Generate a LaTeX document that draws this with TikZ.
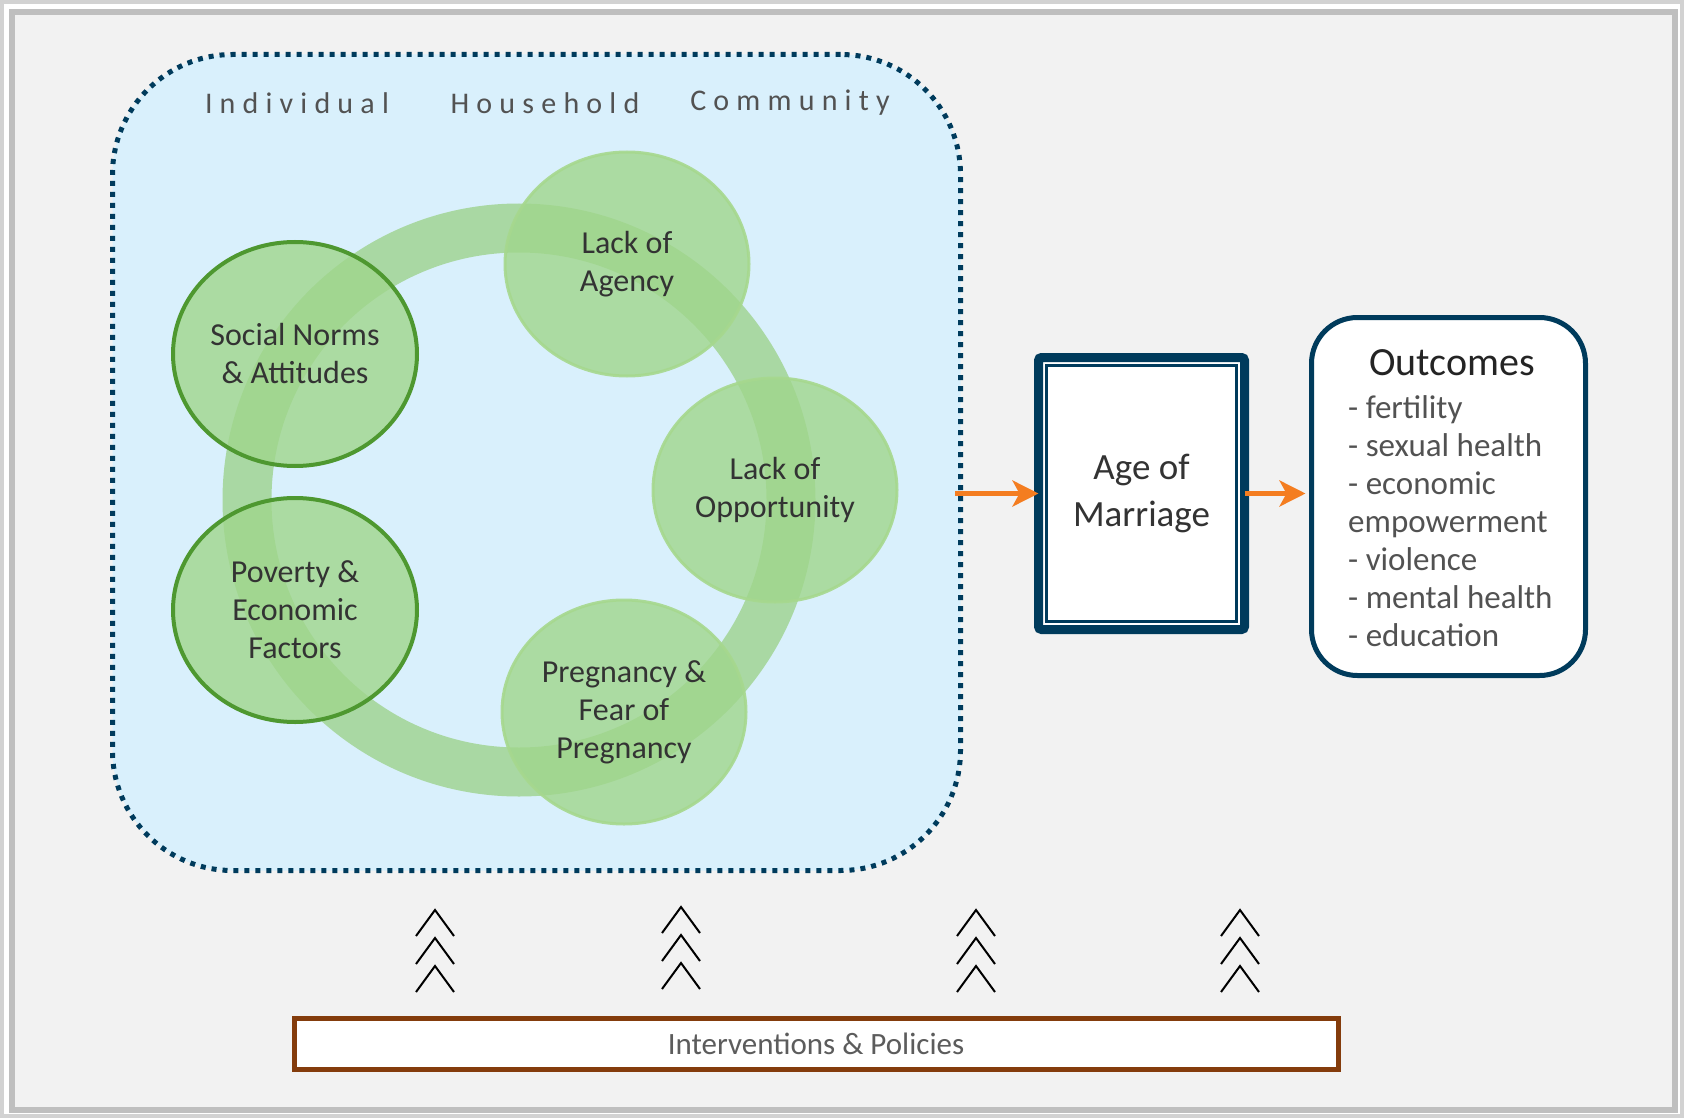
\documentclass[tikz,border=0pt]{standalone}
\usepackage{fontspec}
\setmainfont{Carlito}
\newfontfamily\spacedfont{Carlito}[LetterSpace=24]
\usetikzlibrary{shapes.geometric,arrows.meta,positioning}
\definecolor{paper}{RGB}{242,242,242}
\definecolor{framegray}{RGB}{191,191,191}
\definecolor{levelblue}{RGB}{217,240,252}
\definecolor{navy}{RGB}{0,59,92}
\definecolor{ringgreen}{RGB}{150,206,126}
\definecolor{factorgreen}{RGB}{160,214,140}
\definecolor{darkgreen}{RGB}{78,152,48}
\definecolor{lightgreen}{RGB}{166,216,142}
\definecolor{arroworange}{RGB}{244,125,32}
\definecolor{policybrown}{RGB}{132,60,12}
\definecolor{inktext}{RGB}{51,51,51}
\begin{document}
\begin{tikzpicture}[x=1pt,y=-1pt,
  levelbox/.style={draw=navy,line width=5pt,dash pattern=on 5pt off 6pt,fill=levelblue,
    rounded corners=120pt,minimum width=848pt,minimum height=816pt,inner sep=0pt},
  factor/.style={ellipse,fill=factorgreen,fill opacity=0.8,text opacity=1,text=inktext,
    minimum width=244pt,minimum height=224pt,inner sep=0pt,align=center,
    font=\fontsize{32}{38}\selectfont},
  keyfactor/.style={factor,draw=darkgreen,line width=4pt},
  otherfactor/.style={factor,draw=lightgreen,draw opacity=0.9,line width=3pt},
  layer/.style={text=inktext!85,font=\spacedfont\fontsize{30}{36}\selectfont},
  agebox/.style={draw=navy,line width=9pt,fill=white,rounded corners=3pt,outer sep=0pt,
    minimum width=206pt,minimum height=272pt,inner sep=0pt,align=center,text=inktext,
    font=\fontsize{37}{47}\selectfont},
  outbox/.style={draw=navy,line width=5pt,fill=white,rounded corners=46pt,outer sep=0pt,
    minimum width=274pt,minimum height=358pt,inner sep=0pt},
  flow/.style={draw=arroworange,line width=4.5pt,
    -{Stealth[length=26pt,width=26pt,inset=7pt]}},
  chevron/.style={draw=black,line width=2pt},
  policybar/.style={draw=policybrown,line width=5pt,fill=white,outer sep=0pt,
    minimum width=1044pt,minimum height=51pt,inner sep=0pt,text=inktext!80,
    font=\fontsize{31}{36}\selectfont}]
\useasboundingbox (0,0) rectangle (1684,1118);
% frame
\fill[white] (0,0) rectangle (1684,1118);
\draw[framegray!70,line width=4pt] (2,2) rectangle (1682,1116);
\draw[framegray,line width=6pt,fill=paper] (12,12) rectangle (1674.5,1109.5);

% levels
\node[levelbox] (levels) at (536.5,462.5) {};
\node[layer] (individual) at (297,103) {Individual};
\node[layer] (household) at (545,103) {Household};
\node[layer] (community) at (790,103) {Community};

% ring of factors
\coordinate (ringc) at (519,500);
\draw[ringgreen,draw opacity=0.7,line width=49pt] (ringc) circle (272);
\node[otherfactor] (agency) at (627,264) {Lack of\\Agency};
\node[otherfactor] (opportunity) at (775,490) {Lack of\\Opportunity};
\node[otherfactor] (pregnancy) at (624,712) {Pregnancy \&\\Fear of\\Pregnancy};
\node[keyfactor] (social) at (295,354) {Social Norms\\\& Attitudes};
\node[keyfactor] (poverty) at (295,610) {Poverty \&\\Economic\\Factors};

% marriage and outcomes
\node[agebox] (age) at (1141.5,493.5) {Age of\\Marriage};
\draw[navy,line width=3pt] ([shift={(8,8)}]age.north west) rectangle ([shift={(-8,-8)}]age.south east);
\node[outbox] (outcomes) at (1448.5,496.5) {};
\node[text=inktext!70!black,font=\fontsize{40}{46}\selectfont] (outtitle) at (1452,363) {Outcomes};
\node[anchor=west,align=left,inner sep=0pt,text=inktext!85,font=\fontsize{33}{38}\selectfont]
  (outlist) at (1348,521) {- fertility\\- sexual health\\- economic\\empowerment\\- violence\\- mental health\\- education};

\draw[flow] ([xshift=-8pt]levels.east |- age.west) -- (age.west);
\draw[flow,shorten >=6pt] (age.east) -- (outcomes.west |- age.east);

% interventions
\foreach \cx/\cy in {435/910, 681/907, 976/910, 1240/910}
  \foreach \k in {0,1,2}
    \draw[chevron] (\cx-19,\cy+\k*28+26) -- (\cx,\cy+\k*28) -- (\cx+19,\cy+\k*28+26);
\node[policybar] (policies) at (816,1043.5) {Interventions \& Policies};
\end{tikzpicture}
\end{document}
